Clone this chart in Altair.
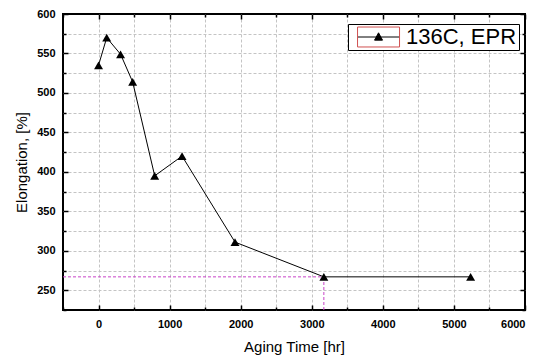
import altair as alt
import pandas as pd

# ---- data ----
aging_time = [0, 115, 310, 480, 790, 1175, 1920, 3170, 5235]
elongation = [535, 570, 549, 514, 395, 420, 311, 267, 267]
series_name = "136C, EPR"

x_major = [0, 1000, 2000, 3000, 4000, 5000, 6000]
x_minor = [-500, 500, 1500, 2500, 3500, 4500, 5500]
y_major = [250, 300, 350, 400, 450, 500, 550, 600]
y_minor = [225, 275, 325, 375, 425, 475, 525, 575]
x_domain = [-500, 6000]
y_domain = [225, 600]

# dotted guide lines to the 3170 hr point
ref_time = [x_domain[0], 3170, 3170, 3170]
ref_elong = [267, 267, y_domain[0], 267]
ref_seg = ["h", "h", "v", "v"]

W, H = 462, 296
FONT = "Liberation Sans"

df = pd.DataFrame({"time": aging_time, "elong": elongation,
                   "series": series_name, "frame": "frame"})
ref_df = pd.DataFrame({"time": ref_time, "elong": ref_elong, "seg": ref_seg})

xs = alt.Scale(domain=x_domain, nice=False, zero=False)
ys = alt.Scale(domain=y_domain, nice=False, zero=False)


def hidden_axis(**kw):
    base = dict(labels=False, ticks=False, domain=False, grid=False, title=None)
    base.update(kw)
    return alt.Axis(**base)


def enc(xaxis, yaxis):
    return dict(x=alt.X("time:Q", scale=xs, axis=xaxis),
                y=alt.Y("elong:Q", scale=ys, axis=yaxis))


base = alt.Chart(df)

x_grid_vals = [v for v in sorted(x_major + x_minor) if x_domain[0] < v < x_domain[1]]
y_grid_vals = [v for v in sorted(y_major + y_minor) if y_domain[0] < v < y_domain[1]]

grid_layer = base.mark_point(opacity=0).encode(**enc(
    hidden_axis(orient="bottom", values=x_grid_vals, grid=True, gridDash=[3, 2],
                gridColor="#c4c4c4", gridWidth=1),
    hidden_axis(orient="left", values=y_grid_vals, grid=True, gridDash=[3, 2],
                gridColor="#c4c4c4", gridWidth=1)))

label_layer = base.mark_point(opacity=0).encode(**enc(
    alt.Axis(orient="bottom", values=x_major, format="d", ticks=False, tickSize=0,
             domain=False, grid=False,
             labelFont=FONT, labelFontWeight="bold", labelFontSize=11, labelColor="black",
             labelPadding=8, title="Aging Time [hr]", titleFont=FONT, titleFontSize=15,
             titleFontWeight="normal", titleColor="black", titlePadding=10),
    alt.Axis(orient="left", values=y_major, format="d", ticks=False, tickSize=0,
             domain=False, grid=False,
             labelFont=FONT, labelFontWeight="bold", labelFontSize=11, labelColor="black",
             labelPadding=8, title="Elongation, [%]", titleFont=FONT, titleFontSize=15,
             titleFontWeight="normal", titleColor="black", titlePadding=7)))


def tick_layer(xorient, yorient, xv, yv, size):
    return base.mark_point(opacity=0).encode(**enc(
        hidden_axis(orient=xorient, offset=-H, values=xv, ticks=True, tickSize=size,
                    tickColor="black", tickWidth=1.5),
        hidden_axis(orient=yorient, offset=-W, values=yv, ticks=True, tickSize=size,
                    tickColor="black", tickWidth=1.5)))


ticks_bl_major = tick_layer("top", "right", x_major, y_major, 5)
ticks_bl_minor = tick_layer("top", "right", x_minor, y_minor, 3)
ticks_tr_major = tick_layer("bottom", "left", x_major, y_major, 5)
ticks_tr_minor = tick_layer("bottom", "left", x_minor, y_minor, 3)

ref_layer = alt.Chart(ref_df).mark_line(color="#c844c8", strokeDash=[3, 2], strokeWidth=1).encode(
    x=alt.X("time:Q", scale=xs, axis=None),
    y=alt.Y("elong:Q", scale=ys, axis=None),
    detail="seg:N")

line_layer = base.mark_line(color="black", strokeWidth=1).encode(
    x=alt.X("time:Q", scale=xs, axis=None),
    y=alt.Y("elong:Q", scale=ys, axis=None))

sym_main = "M-0.33,0H3.67M1.29,0.3L2.05,0.3L1.67,-0.4Z"
sym_frame = "M-0.33,-0.95H3.67V0.95H-0.33Z"

point_layer = base.mark_point(shape="triangle-up", filled=True, size=80, opacity=1).encode(
    x=alt.X("time:Q", scale=xs, axis=None),
    y=alt.Y("elong:Q", scale=ys, axis=None),
    color=alt.Color("series:N", scale=alt.Scale(domain=[series_name], range=["black"]),
                    legend=alt.Legend(title=None, orient="none", legendX=285, legendY=10,
                                      padding=2, strokeColor="black", fillColor="white",
                                      symbolType=sym_main, symbolSize=441,
                                      symbolStrokeColor="black", symbolFillColor="black",
                                      symbolStrokeWidth=1, labelFont=FONT, labelFontSize=22,
                                      labelColor="black", labelOffset=34)))

frame_layer = base.transform_filter("false").mark_point(filled=False, opacity=1).encode(
    x=alt.X("time:Q", scale=xs, axis=None),
    y=alt.Y("elong:Q", scale=ys, axis=None),
    stroke=alt.Stroke("frame:N", scale=alt.Scale(domain=["frame"], range=["#d05050"]),
                      legend=alt.Legend(title=None, orient="none", legendX=285, legendY=10,
                                        padding=2, symbolType=sym_frame, symbolSize=441,
                                        symbolStrokeColor="#d05050", symbolFillColor="transparent",
                                        symbolStrokeWidth=1, labelFont=FONT, labelFontSize=22,
                                        labelExpr="''", labelOffset=34, zindex=2)))

chart = alt.layer(
    grid_layer, label_layer, ref_layer, line_layer, point_layer, frame_layer,
    ticks_bl_major, ticks_bl_minor, ticks_tr_major, ticks_tr_minor,
).resolve_axis(x="independent", y="independent").properties(
    width=W, height=H, autosize="none",
    padding={"left": 63, "top": 14, "right": 12, "bottom": 47},
    background="white",
).configure_view(stroke="black", strokeWidth=2)

chart.save("out.html", embed_options={"renderer": "svg", "actions": False})
